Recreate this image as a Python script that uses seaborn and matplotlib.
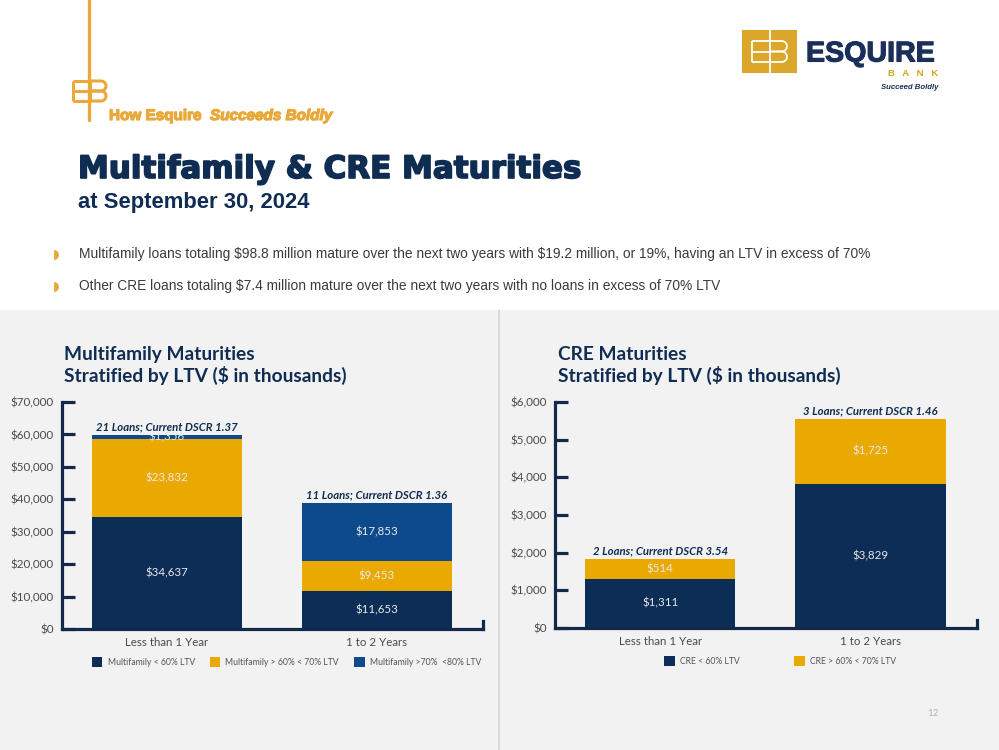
import numpy as np
import pandas as pd
import matplotlib
matplotlib.use("Agg")
import matplotlib.pyplot as plt
import seaborn as sns
from matplotlib.patches import Rectangle, Patch
from matplotlib.lines import Line2D
import matplotlib.patheffects as pe

sns.set_theme(style="white")
plt.rcParams["font.family"] = ["Lato", "DejaVu Sans"]
plt.rcParams["text.parse_math"] = False

# ---------------- data ----------------
categories = ["Less than 1 Year", "1 to 2 Years"]

mf_lt60 = [34637, 11653]
mf_60_70 = [23832, 9453]
mf_70_80 = [1356, 17853]
mf_series = ["Multifamily < 60% LTV", "Multifamily > 60% < 70% LTV", "Multifamily >70%  <80% LTV"]
mf_notes = ["21 Loans; Current DSCR 1.37", "11 Loans; Current DSCR 1.36"]
mf_yticks = [0, 10000, 20000, 30000, 40000, 50000, 60000, 70000]

cre_lt60 = [1311, 3829]
cre_60_70 = [514, 1725]
cre_series = ["CRE < 60% LTV", "CRE > 60% < 70% LTV"]
cre_notes = ["2 Loans; Current DSCR 3.54", "3 Loans; Current DSCR 1.46"]
cre_yticks = [0, 1000, 2000, 3000, 4000, 5000, 6000]

bullets = [
    "Multifamily loans totaling $98.8 million mature over the next two years with $19.2 million, or 19%, having an LTV in excess of 70%",
    "Other CRE loans totaling $7.4 million mature over the next two years with no loans in excess of 70% LTV",
]

# ---------------- style ----------------
NAVY = "#0c2d55"
GOLD = "#e9a900"
BLUE = "#0d4a8b"
TITLE = "#0f2d52"
AXIS = "#14294a"
TICKTXT = "#4a4a4a"
HGOLD = "#e8a93a"

W, H = 999, 750
fig = plt.figure(figsize=(W / 100, H / 100), dpi=100)
fig.patch.set_facecolor("white")


def fx(x):
    return x / W


def fy(y):
    return 1 - y / H


# background panel
fig.patches.append(Rectangle((0, 0), 1, fy(310), transform=fig.transFigure,
                             facecolor="#f2f2f2", edgecolor="none", zorder=-5))
fig.lines.append(Line2D([fx(499), fx(499)], [0, fy(310)], transform=fig.transFigure,
                        color="#d6d6d6", lw=1.2, zorder=-4))

# ---------------- header ----------------
fig.lines.append(Line2D([fx(89), fx(89)], [fy(0), fy(120)], transform=fig.transFigure,
                        color=HGOLD, lw=2.4))


def eb_symbol(x0, y0, w, h, color, lw, vline_ext=(0, 0)):
    """EB mark: x0,y0 top-left in pixels."""
    xm = x0 + w / 2
    yt, yb, ymid = y0, y0 + h, y0 + h / 2
    segs = []
    segs.append(([x0, xm], [yt, yt]))
    segs.append(([x0, xm], [ymid, ymid]))
    segs.append(([x0, xm], [yb, yb]))
    segs.append(([x0, x0], [yt, yb]))
    r = h / 4
    xs = xm + w / 2 - r
    t = np.linspace(-np.pi / 2, np.pi / 2, 20)
    bx1 = [xm, xs] + list(xs + r * np.cos(t)) + [xs, xm]
    by1 = [yt, yt] + list(yt + r + r * np.sin(t)) + [ymid, ymid]
    segs.append((bx1, by1))
    by2 = [ymid, ymid] + list(ymid + r + r * np.sin(t)) + [yb, yb]
    segs.append((bx1, by2))
    for xs_, ys_ in segs:
        fig.lines.append(Line2D([fx(v) for v in xs_], [fy(v) for v in ys_],
                                transform=fig.transFigure, color=color, lw=lw,
                                solid_capstyle="butt"))
    fig.lines.append(Line2D([fx(xm), fx(xm)], [fy(yt - vline_ext[0]), fy(yb + vline_ext[1])],
                            transform=fig.transFigure, color=color, lw=lw))


eb_symbol(73, 81, 33, 20, HGOLD, 2.2)

heavy = [pe.withStroke(linewidth=0.9, foreground=HGOLD)]
fig.text(fx(109), fy(120), "How Esquire", fontsize=11, fontweight="bold", color=HGOLD,
         family=["Liberation Sans"], va="baseline", path_effects=heavy)
fig.text(fx(210), fy(120), "Succeeds Boldly", fontsize=11, fontweight="bold", style="italic",
         color=HGOLD, family=["Liberation Sans"], va="baseline", path_effects=heavy)

fig.text(fx(78), fy(178), "Multifamily & CRE Maturities", fontsize=22.3, fontweight="bold",
         color=TITLE, family=["DejaVu Sans"], va="baseline",
         path_effects=[pe.withStroke(linewidth=1.2, foreground=TITLE)])
fig.text(fx(78), fy(208), "at September 30, 2024", fontsize=15.8, fontweight="bold",
         color=TITLE, family=["Liberation Sans"], va="baseline")

for i, b in enumerate(bullets):
    yc = 254 + 32 * i
    fig.text(fx(53), fy(yc), "\u25D7", fontsize=9, color=HGOLD, family=["DejaVu Sans"],
             va="center", ha="left")
    fig.text(fx(79), fy(yc), b, fontsize=9.9, color="#3a3a3a", family=["Liberation Sans"],
             va="center", ha="left")

# top-right logo
fig.patches.append(Rectangle((fx(742), fy(73)), fx(55), 43 / H, transform=fig.transFigure,
                             facecolor="#dba62a", edgecolor="none"))
eb_symbol(752, 41, 35, 21, "white", 1.3, vline_ext=(11, 11))
fig.text(fx(806), fy(61.5), "ESQUIRE", fontsize=20.6, fontweight="bold", color="#1b2f5a",
         family=["Liberation Sans"], va="baseline",
         path_effects=[pe.withStroke(linewidth=0.8, foreground="#1b2f5a")])
fig.text(fx(938), fy(76), "B   A   N   K", fontsize=6.8, fontweight="bold", color="#d9a21c",
         family=["Liberation Sans"], va="baseline", ha="right")
fig.text(fx(938), fy(89), "Succeed Boldly", fontsize=5.6, fontweight="bold", style="italic",
         color="#1b2f5a", family=["Liberation Sans"], va="baseline", ha="right")

fig.text(fx(933), fy(714), "12", fontsize=7, color="#b5b5b5", ha="center", va="center")


# ---------------- charts ----------------
def draw_chart(rect, layers, colors, names, notes, yticks, colspace):
    ax = fig.add_axes(rect)
    ax.set_facecolor("none")
    cum = np.cumsum(np.array(layers, dtype=float), axis=0)
    for k in range(len(layers) - 1, -1, -1):
        df = pd.DataFrame({"cat": categories, "val": cum[k]})
        sns.barplot(data=df, x="cat", y="val", color=colors[k], saturation=1,
                    width=0.715, ax=ax, zorder=2, linewidth=0, edgecolor="none")
    ymax = yticks[-1]
    ax.set_ylim(0, ymax)
    ax.set_xlim(-0.5, 1.505)
    ax.set_xlabel("")
    ax.set_ylabel("")
    for k in range(len(layers)):
        for i in range(len(categories)):
            bottom = cum[k - 1][i] if k > 0 else 0
            ax.text(i, bottom + layers[k][i] / 2, f"${layers[k][i]:,}", ha="center", va="center",
                    fontsize=8.3, color="#e9e9e9", zorder=3)
    for i in range(len(categories)):
        ax.text(i, cum[-1][i] + ymax * 0.012, notes[i], ha="center", va="bottom", fontsize=8.2,
                fontweight="bold", style="italic", color=TITLE, zorder=4)
    ax.set_yticks(yticks)
    ax.set_yticklabels([f"${v:,}" for v in yticks])
    ax.spines["top"].set_visible(False)
    for s in ["left", "bottom", "right"]:
        ax.spines[s].set_color(AXIS)
        ax.spines[s].set_linewidth(2.3)
        ax.spines[s].set_visible(True)
    ax.spines["right"].set_bounds(0, ymax * 0.035)
    ax.tick_params(axis="y", direction="in", length=9, width=2.3, color=AXIS,
                   labelsize=8.4, labelcolor=TICKTXT, pad=6, left=True)
    ax.tick_params(axis="x", length=0, labelsize=8.3, labelcolor=TICKTXT, pad=6)
    ax.grid(False)
    handles = [Patch(facecolor=c, edgecolor="none") for c in colors]
    ax.legend(handles, names, loc="center", bbox_to_anchor=(0.533, -0.145), ncol=len(names),
              frameon=False, fontsize=6.2, handlelength=1.25, handleheight=1.45, handletextpad=0.6,
              columnspacing=colspace, labelcolor="#555555")
    return ax


axL = draw_chart([fx(62), fy(629), fx(421), 227 / H], [mf_lt60, mf_60_70, mf_70_80],
                 [NAVY, GOLD, BLUE], mf_series, mf_notes, mf_yticks, 1.7)
axR = draw_chart([fx(555), fy(628), fx(422), 226 / H], [cre_lt60, cre_60_70],
                 [NAVY, GOLD], cre_series, cre_notes, cre_yticks, 6.3)

for x, t in [(64, "Multifamily Maturities"), (558, "CRE Maturities")]:
    fig.text(fx(x), fy(360), t, fontsize=13.8, fontweight="bold", color=TITLE, va="baseline")
    fig.text(fx(x), fy(382), "Stratified by LTV ($ in thousands)", fontsize=13.8,
             fontweight="bold", color=TITLE, va="baseline")

fig.savefig("out.png", dpi=100, facecolor=fig.get_facecolor())
